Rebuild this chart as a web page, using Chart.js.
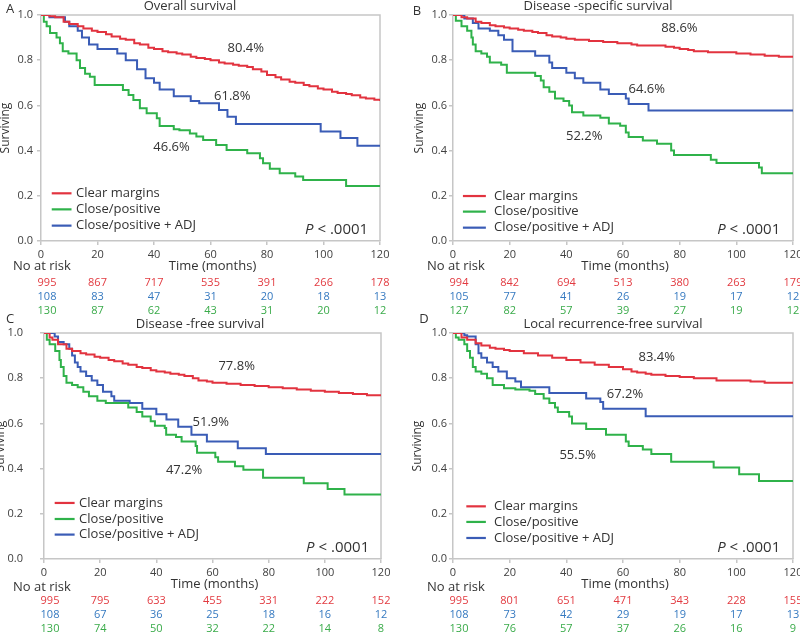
<!DOCTYPE html>
<html>
<head>
<meta charset="utf-8">
<script src="https://cdn.jsdelivr.net/npm/chart.js@4.4.1/dist/chart.umd.min.js"></script>
<style>
  body { margin: 0; background: #fff; }
  #wrap { position: relative; width: 800px; height: 636px; overflow: hidden; }
  #wrap canvas { position: absolute; left: 0; top: 0; }
</style>
</head>
<body>
<div id="wrap">
  <canvas id="pA" width="800" height="636"></canvas>
  <canvas id="pB" width="800" height="636"></canvas>
  <canvas id="pC" width="800" height="636"></canvas>
  <canvas id="pD" width="800" height="636"></canvas>
</div>
<script>
// --- DATA ---
const monthTicks = [0, 20, 40, 60, 80, 100, 120];
const groupNames = ['Clear margins', 'Close/positive', 'Close/positive + ADJ'];

// A: overall survival  [month, surviving]
const osClear = [[0,1],[3,0.995],[5,0.99],[8,0.97],[10,0.96],[13,0.95],[15,0.94],[18,0.93],[20,0.925],[23,0.915],[25,0.905],[28,0.895],[30,0.89],[33,0.875],[35,0.87],[38,0.855],[40,0.85],[43,0.84],[45,0.835],[48,0.83],[50,0.825],[53,0.815],[55,0.81],[58,0.805],[60,0.8],[63,0.79],[65,0.785],[68,0.78],[70,0.775],[73,0.77],[75,0.76],[78,0.75],[80,0.735],[83,0.725],[85,0.715],[88,0.705],[90,0.7],[93,0.69],[95,0.685],[98,0.675],[100,0.67],[103,0.66],[105,0.655],[108,0.65],[110,0.645],[113,0.635],[115,0.63],[118,0.625],[120,0.62]];
const osClose = [[0,1],[1,0.97],[2,0.95],[3.2,0.92],[5.5,0.9],[6.7,0.875],[7.7,0.84],[9.7,0.83],[12.6,0.8],[13.8,0.765],[15.6,0.74],[17.3,0.727],[19,0.69],[29,0.668],[31,0.646],[32.7,0.624],[35,0.587],[37.4,0.565],[41,0.543],[42,0.509],[47,0.495],[49,0.49],[52.7,0.476],[55,0.462],[57.4,0.447],[62,0.425],[65.7,0.403],[73,0.388],[77.5,0.366],[78.6,0.344],[81,0.32],[84.5,0.3],[90,0.285],[92.8,0.27],[108,0.243],[120,0.243]];
const osAdj = [[0,1],[3,0.99],[8.5,0.97],[10,0.95],[13,0.93],[14.5,0.9],[17,0.87],[20,0.85],[27,0.83],[30,0.8],[34,0.76],[37,0.72],[40,0.7],[42,0.67],[47,0.64],[53,0.62],[56,0.61],[63,0.58],[66,0.55],[69,0.518],[99,0.484],[106,0.456],[112,0.422],[120,0.422]];
const osRiskClear = [995, 867, 717, 535, 391, 266, 178];
const osRiskAdj = [108, 83, 47, 31, 20, 18, 13];
const osRiskClose = [130, 87, 62, 43, 31, 20, 12];
const osPct = [80.4, 61.8, 46.6]; // clear, adj, close

// B: disease-specific survival
const dssClear = [[0,1],[3,0.99],[5,0.985],[8,0.97],[10,0.965],[13,0.955],[15,0.95],[18,0.945],[20,0.94],[23,0.935],[25,0.93],[28,0.925],[30,0.92],[33,0.91],[35,0.905],[38,0.9],[40,0.895],[43,0.89],[48,0.885],[53,0.88],[58,0.875],[63,0.87],[65,0.865],[75,0.86],[78,0.855],[80,0.85],[83,0.845],[85,0.84],[90,0.835],[100,0.83],[105,0.825],[110,0.82],[115,0.815],[120,0.815]];
const dssClose = [[0,1],[1,0.975],[3,0.95],[5,0.93],[6.5,0.9],[7,0.87],[8,0.84],[10,0.83],[12,0.815],[13,0.79],[17,0.78],[19,0.745],[29,0.73],[31,0.71],[32,0.68],[34,0.66],[36,0.63],[39,0.62],[41,0.6],[42,0.57],[46,0.555],[52,0.545],[55,0.52],[59,0.51],[61,0.48],[62,0.46],[67,0.445],[72,0.43],[77,0.4],[78,0.38],[91,0.36],[93,0.345],[108,0.325],[109,0.3],[120,0.3]];
const dssAdj = [[0,1],[4,0.985],[7,0.965],[9,0.94],[13,0.93],[16,0.91],[18,0.89],[21,0.84],[29,0.82],[34,0.79],[35,0.765],[40,0.745],[43,0.72],[46,0.7],[52,0.67],[55,0.65],[61,0.63],[62,0.606],[69,0.577],[120,0.577]];
const dssRiskClear = [994, 842, 694, 513, 380, 263, 179];
const dssRiskAdj = [105, 77, 41, 26, 19, 17, 12];
const dssRiskClose = [127, 82, 57, 39, 27, 19, 12];
const dssPct = [88.6, 64.6, 52.2];

// C: disease-free survival
const dfsClear = [[0,1],[2,0.98],[3,0.97],[5,0.95],[8,0.93],[10,0.92],[13,0.91],[15,0.905],[18,0.895],[20,0.89],[23,0.88],[25,0.875],[28,0.865],[30,0.86],[33,0.85],[35,0.845],[38,0.835],[40,0.83],[43,0.825],[45,0.82],[48,0.815],[50,0.81],[53,0.8],[55,0.79],[58,0.785],[60,0.78],[65,0.775],[70,0.77],[75,0.765],[80,0.76],[85,0.755],[90,0.75],[95,0.745],[100,0.74],[105,0.735],[110,0.73],[115,0.725],[120,0.72]];
const dfsClose = [[0,1],[1,0.97],[2,0.95],[4,0.92],[5.5,0.88],[6,0.85],[7,0.81],[8,0.78],[10,0.77],[12,0.76],[14,0.74],[16,0.72],[19,0.7],[22,0.69],[30,0.67],[33,0.65],[35,0.63],[38,0.61],[39.5,0.59],[43,0.58],[43.5,0.55],[47,0.54],[49,0.52],[54,0.5],[54.5,0.47],[61,0.45],[62,0.43],[68,0.41],[71,0.395],[78,0.36],[92.5,0.335],[101,0.31],[107,0.285],[120,0.285]];
const dfsAdj = [[0,1],[3.8,0.985],[5,0.96],[7,0.95],[9,0.93],[10,0.9],[11,0.87],[12,0.85],[13,0.83],[15,0.81],[17,0.79],[19,0.77],[21,0.74],[24,0.72],[25,0.7],[30.5,0.69],[35,0.665],[40,0.64],[43.6,0.617],[47.8,0.585],[52.5,0.55],[58,0.52],[69,0.49],[79,0.465],[120,0.465]];
const dfsRiskClear = [995, 795, 633, 455, 331, 222, 152];
const dfsRiskAdj = [108, 67, 36, 25, 18, 16, 12];
const dfsRiskClose = [130, 74, 50, 32, 22, 14, 8];
const dfsPct = [77.8, 51.9, 47.2];

// D: local recurrence-free survival
const lrfsClear = [[0,1],[3,0.98],[5,0.97],[8,0.955],[10,0.945],[13,0.935],[15,0.93],[18,0.925],[20,0.92],[25,0.91],[30,0.9],[35,0.89],[40,0.88],[45,0.87],[50,0.86],[55,0.85],[60,0.84],[63,0.83],[65,0.825],[68,0.82],[70,0.815],[75,0.81],[80,0.805],[85,0.8],[93,0.79],[105,0.785],[110,0.78],[120,0.775]];
const lrfsClose = [[0,1],[1,0.98],[2,0.97],[4,0.95],[5,0.92],[6,0.89],[7,0.85],[8,0.83],[10,0.82],[12,0.8],[14,0.77],[18,0.755],[22,0.75],[27,0.745],[29,0.73],[32,0.71],[34,0.69],[36,0.67],[37,0.65],[41,0.63],[42,0.6],[47,0.575],[54,0.55],[61,0.52],[62,0.5],[67,0.485],[70,0.465],[77,0.43],[92,0.405],[101,0.375],[108,0.345],[120,0.345]];
const lrfsAdj = [[0,1],[4,0.99],[5,0.985],[8,0.95],[9,0.91],[10,0.89],[12,0.87],[14,0.85],[16,0.83],[19,0.8],[22,0.785],[24,0.76],[34,0.735],[47,0.71],[52,0.695],[53,0.665],[68,0.632],[120,0.632]];
const lrfsRiskClear = [995, 801, 651, 471, 343, 228, 155];
const lrfsRiskAdj = [108, 73, 42, 29, 19, 17, 13];
const lrfsRiskClose = [130, 76, 57, 37, 26, 16, 9];
const lrfsPct = [83.4, 67.2, 55.5];

// --- STYLE ---
const FONT = '"Open Sans", "Noto Sans", sans-serif';
const RED = '#e2333f', GREEN = '#2fb24a', BLUE = '#3a5cb6';
const RISK_RED = '#e23a40', RISK_BLUE = '#3579c0', RISK_GREEN = '#3aab4a';
const AXIS_GREY = '#c6c6c6';
const TEXT = '#333333';

// area = [left, right, top, bottom] in page pixels, x0 = left edge of the panel
const panels = [
  { id: 'pA', x0: 0, letter: 'A', letterXY: [10, 9], title: 'Overall survival', titleXY: [190, 6], area: [41, 380, 15, 241], yPad: 4, yTitleX: 6,
    curves: [osClear, osClose, osAdj], risk: [osRiskClear, osRiskAdj, osRiskClose], pct: osPct,
    pctAt: [[72.5, 0.852], [67.7, 0.639], [46.2, 0.413]],
    legend: { x0: 3.8, x1: 10.8, tx: 12.4, ys: [0.211, 0.140, 0.068] }, pAt: [115.8, 0.049], noRiskX: 13, noRiskDy: 25 },
  { id: 'pB', x0: 400, letter: 'B', letterXY: [417, 11], title: 'Disease -specific survival', titleXY: [598, 6], area: [453, 793, 15, 241], yPad: 2, yTitleX: 420,
    curves: [dssClear, dssClose, dssAdj], risk: [dssRiskClear, dssRiskAdj, dssRiskClose], pct: dssPct,
    pctAt: [[79.9, 0.941], [68.4, 0.671], [46.3, 0.462]],
    legend: { x0: 3.5, x1: 11.6, tx: 14.5, ys: [0.199, 0.130, 0.059] }, pAt: [115.5, 0.049], noRiskX: 427, noRiskDy: 25 },
  { id: 'pC', x0: 0, letter: 'C', letterXY: [10, 319], title: 'Disease -free survival', titleXY: [200, 324], area: [44, 381, 333, 559], yPad: 17, yTitleX: 1,
    curves: [dfsClear, dfsClose, dfsAdj], risk: [dfsRiskClear, dfsRiskAdj, dfsRiskClose], pct: dfsPct,
    pctAt: [[68.6, 0.853], [59.4, 0.606], [49.9, 0.392]],
    legend: { x0: 3.8, x1: 10.9, tx: 12.5, ys: [0.248, 0.177, 0.108] }, pAt: [115.8, 0.052], noRiskX: 13, noRiskDy: 28 },
  { id: 'pD', x0: 400, letter: 'D', letterXY: [424, 319], title: 'Local recurrence-free survival', titleXY: [613, 324], area: [453, 793, 333, 559], yPad: 2, yTitleX: 418,
    curves: [lrfsClear, lrfsClose, lrfsAdj], risk: [lrfsRiskClear, lrfsRiskAdj, lrfsRiskClose], pct: lrfsPct,
    pctAt: [[71.9, 0.892], [60.7, 0.730], [44.0, 0.459]],
    legend: { x0: 4.7, x1: 11.6, tx: 14.5, ys: [0.233, 0.164, 0.093] }, pAt: [115.5, 0.052], noRiskX: 427, noRiskDy: 28 }
];

const curveColors = [RED, GREEN, BLUE];
const riskColors = [RISK_RED, RISK_BLUE, RISK_GREEN];

// --- DECORATION PLUGIN (box, titles, legend, labels, at-risk table) ---
function makeDecor(p) {
  return {
    id: 'decor' + p.letter,
    beforeDatasetsDraw(chart) {
      const { ctx, chartArea: a } = chart;
      ctx.save();
      ctx.strokeStyle = AXIS_GREY;
      ctx.lineWidth = 1.5;
      ctx.beginPath();
      ctx.moveTo(a.left, a.top);
      ctx.lineTo(a.right, a.top);
      ctx.lineTo(a.right, a.bottom);
      ctx.stroke();
      ctx.restore();
    },
    afterDraw(chart) {
      const { ctx, chartArea: a, scales: { x, y } } = chart;
      ctx.save();
      ctx.fillStyle = TEXT;
      ctx.textBaseline = 'middle';

      // panel letter + title
      ctx.font = `13px ${FONT}`;
      ctx.textAlign = 'center';
      ctx.fillText(p.title, p.titleXY[0], p.titleXY[1]);
      ctx.fillText(p.letter, p.letterXY[0], p.letterXY[1]);

      // y axis title
      ctx.save();
      ctx.translate(p.yTitleX, (a.top + a.bottom) / 2);
      ctx.rotate(-Math.PI / 2);
      ctx.font = `12px ${FONT}`;
      ctx.fillText('Surviving', 0, 0);
      ctx.restore();

      // 5-year percentages
      ctx.font = `13px ${FONT}`;
      p.pct.forEach((v, i) => {
        ctx.fillText(v.toFixed(1) + '%', x.getPixelForValue(p.pctAt[i][0]), y.getPixelForValue(p.pctAt[i][1]));
      });

      // legend
      ctx.textAlign = 'left';
      groupNames.forEach((name, i) => {
        const yy = y.getPixelForValue(p.legend.ys[i]);
        ctx.strokeStyle = curveColors[i];
        ctx.lineWidth = 2.2;
        ctx.beginPath();
        ctx.moveTo(x.getPixelForValue(p.legend.x0), yy);
        ctx.lineTo(x.getPixelForValue(p.legend.x1), yy);
        ctx.stroke();
        ctx.fillText(name, x.getPixelForValue(p.legend.tx), yy);
      });

      // P value
      ctx.font = `15px ${FONT}`;
      const rest = ' < .0001';
      const rx = x.getPixelForValue(p.pAt[0]);
      const py = y.getPixelForValue(p.pAt[1]);
      const restW = ctx.measureText(rest).width;
      ctx.textAlign = 'right';
      ctx.fillText(rest, rx, py);
      ctx.font = `italic 15px ${FONT}`;
      ctx.fillText('P', rx - restW, py);

      // x title and at-risk table
      ctx.font = `13px ${FONT}`;
      ctx.textAlign = 'center';
      ctx.fillText('Time (months)', (a.left + a.right) / 2 + 2, a.bottom + 25);
      ctx.textAlign = 'left';
      ctx.fillText('No at risk', p.noRiskX, a.bottom + p.noRiskDy);
      ctx.font = `11px ${FONT}`;
      ctx.textAlign = 'center';
      p.risk.forEach((row, r) => {
        ctx.fillStyle = riskColors[r];
        row.forEach((n, i) => {
          const cx = x.getPixelForValue(monthTicks[i]) + (i === 0 ? 6 : 0);
          ctx.fillText(String(n), cx, a.bottom + 42 + r * 14);
        });
      });
      ctx.restore();
    }
  };
}

// --- CHART SETUP ---
function buildPanel(p) {
  const [left, right, top, bottom] = p.area;
  const yW = left - p.x0, xH = 30;
  new Chart(document.getElementById(p.id), {
    type: 'line',
    data: {
      datasets: p.curves.map((c, i) => ({
        label: groupNames[i],
        data: c.map(pt => ({ x: pt[0], y: pt[1] })),
        borderColor: curveColors[i],
        borderWidth: 2,
        pointRadius: 0,
        stepped: 'before',
        fill: false
      }))
    },
    options: {
      responsive: false,
      animation: false,
      layout: {
        autoPadding: false,
        padding: { left: p.x0, right: 800 - right, top: top, bottom: 636 - bottom - xH }
      },
      plugins: { legend: { display: false }, tooltip: { enabled: false }, title: { display: false } },
      scales: {
        x: {
          type: 'linear', min: 0, max: 120,
          afterFit: s => { s.height = xH; s.paddingLeft = 0; s.paddingRight = 0; },
          afterBuildTicks: s => { s.ticks = monthTicks.map(v => ({ value: v })); },
          border: { display: true, color: AXIS_GREY, width: 1.5 },
          grid: { drawOnChartArea: false, drawTicks: true, tickLength: 4, color: AXIS_GREY, lineWidth: 1.5 },
          ticks: { font: { family: FONT, size: 11 }, color: '#404040', padding: 3, maxRotation: 0 }
        },
        y: {
          type: 'linear', min: 0, max: 1,
          afterFit: s => { s.width = yW; s.paddingTop = 0; s.paddingBottom = 0; },
          border: { display: true, color: AXIS_GREY, width: 1.5 },
          grid: { drawOnChartArea: false, drawTicks: true, tickLength: 4, color: AXIS_GREY, lineWidth: 1.5 },
          ticks: { stepSize: 0.2, font: { family: FONT, size: 11 }, color: '#404040', padding: p.yPad,
                   callback: v => v.toFixed(1) }
        }
      }
    },
    plugins: [makeDecor(p)]
  });
}

panels.forEach(buildPanel);
</script>
</body>
</html>
